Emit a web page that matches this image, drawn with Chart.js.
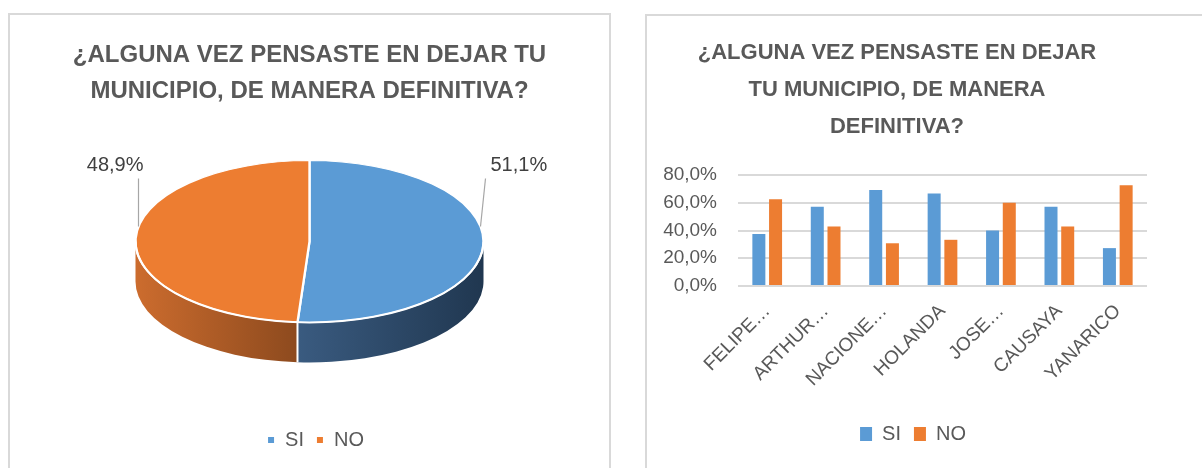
<!DOCTYPE html>
<html>
<head>
<meta charset="utf-8">
<script src="https://cdn.jsdelivr.net/npm/chart.js@4.4.1/dist/chart.umd.min.js"></script>
<style>
  html, body { margin: 0; padding: 0; background: #fff; }
  body { width: 1202px; height: 468px; position: relative; overflow: hidden; }
  .box { position: absolute; border: 2px solid #d9d9d9; box-sizing: border-box; }
  #boxPie { left: 8px; top: 13px; width: 603px; height: 480px; }
  #boxBar { left: 645px; top: 14px; width: 600px; height: 480px; }
  canvas { position: absolute; }
  #pie { left: 10px; top: 15px; }
  #bar { left: 647px; top: 16px; }
</style>
</head>
<body>
<div class="box" id="boxPie"></div>
<div class="box" id="boxBar"></div>
<canvas id="pie" width="599" height="453"></canvas>
<canvas id="bar" width="524" height="452"></canvas>
<script>
// data
const pieLabels = ['SI', 'NO'];
const pieValues = [51.1, 48.9];

const municipios = ['FELIPE…', 'ARTHUR…', 'NACIONE…', 'HOLANDA', 'JOSE…', 'CAUSAYA', 'YANARICO'];
const siValues = [37.5, 57.1, 69.2, 66.7, 40.0, 57.1, 27.3];
const noValues = [62.5, 42.9, 30.8, 33.3, 60.0, 42.9, 72.7];
const yTicks = [0, 20, 40, 60, 80];

const pieTitle = ['¿ALGUNA VEZ PENSASTE EN DEJAR TU', 'MUNICIPIO, DE MANERA DEFINITIVA?'];
const barTitle = ['¿ALGUNA VEZ PENSASTE EN DEJAR', 'TU MUNICIPIO, DE MANERA', 'DEFINITIVA?'];

const BLUE = '#5b9bd5';
const ORANGE = '#ed7d31';
const TEXT = '#595959';
const SANS = '"Liberation Sans", Arial, sans-serif';

Chart.defaults.color = TEXT;
Chart.defaults.font.family = SANS;

function pct(v) {
    return Number(v).toFixed(1).replace('.', ',') + '%';
}

// nudge the legend sideways (excel centres it a bit differently)
const legendShift = {
    id: 'legendShift',
    afterLayout(chart, args, opts) {
        if (!opts.dx) return;
        chart.legend.left += opts.dx;
        chart.legend.right += opts.dx;
    }
};

// flattened pie with a side wall
const PIE_RX = 174, PIE_RY = 81, PIE_DEPTH = 40, PIE_SHIFT = 27;
const sideColors = [['#3a5b80', '#203750'], ['#cc6c2e', '#8d4a1e']];

const pie3d = {
    id: 'pie3d',
    beforeDatasetsDraw(chart) {
        const ctx = chart.ctx;
        const arcs = chart.getDatasetMeta(0).data;
        const a0 = arcs[0];
        const cx = a0.x, cy = a0.y - PIE_SHIFT;
        chart.$pie = { cx, cy };

        arcs.forEach((arc, i) => {
            const s = Math.max(arc.startAngle, 0);
            const e = Math.min(arc.endAngle, Math.PI);
            if (e <= s) return;
            const x1 = cx + PIE_RX * Math.cos(e), x2 = cx + PIE_RX * Math.cos(s);
            const g = ctx.createLinearGradient(x1, 0, x2, 0);
            g.addColorStop(0, sideColors[i][0]);
            g.addColorStop(1, sideColors[i][1]);
            ctx.beginPath();
            ctx.ellipse(cx, cy, PIE_RX, PIE_RY, 0, s, e);
            ctx.ellipse(cx, cy + PIE_DEPTH, PIE_RX, PIE_RY, 0, e, s, true);
            ctx.closePath();
            ctx.fillStyle = g;
            ctx.fill();
        });

        ctx.save();
        ctx.translate(cx, cy);
        ctx.scale(PIE_RX / a0.outerRadius, PIE_RY / a0.outerRadius);
        ctx.translate(-a0.x, -a0.y);
    },
    afterDatasetsDraw(chart) {
        const ctx = chart.ctx;
        ctx.restore();
        const { cx, cy } = chart.$pie;
        const arcs = chart.getDatasetMeta(0).data;

        // white edge between top and wall, and wall divider
        ctx.strokeStyle = '#fff';
        ctx.lineWidth = 2;
        ctx.beginPath();
        ctx.ellipse(cx, cy, PIE_RX, PIE_RY, 0, 0, Math.PI);
        ctx.stroke();
        arcs.forEach(arc => {
            const a = arc.endAngle;
            if (a > 0 && a < Math.PI) {
                const px = cx + PIE_RX * Math.cos(a), py = cy + PIE_RY * Math.sin(a);
                ctx.beginPath();
                ctx.moveTo(px, py);
                ctx.lineTo(px, py + PIE_DEPTH);
                ctx.stroke();
            }
        });

        // data labels with leader lines
        const vals = chart.data.datasets[0].data;
        ctx.font = '20px ' + SANS;
        ctx.fillStyle = '#404040';
        ctx.textBaseline = 'middle';
        arcs.forEach((arc, i) => {
            const mid = (arc.startAngle + arc.endAngle) / 2;
            const right = Math.cos(mid) > 0;
            const dx = (right ? 1 : -1) * (PIE_RX - 3);
            const lx = cx + dx;
            const ly = cy - PIE_RY * Math.sqrt(1 - (dx / PIE_RX) ** 2);
            const top = cy - PIE_RY + 18;
            ctx.strokeStyle = '#a6a6a6';
            ctx.lineWidth = 1.2;
            ctx.beginPath();
            ctx.moveTo(lx, ly);
            ctx.lineTo(lx + (right ? 5 : 0), top);
            ctx.stroke();
            ctx.textAlign = right ? 'left' : 'right';
            ctx.fillText(pct(vals[i]), right ? lx + 10 : lx + 5, cy - PIE_RY + 5);
        });
    }
};

new Chart(document.getElementById('pie'), {
    type: 'pie',
    data: {
        labels: pieLabels,
        datasets: [{
            data: pieValues,
            backgroundColor: [BLUE, ORANGE],
            borderColor: '#fff',
            borderWidth: 2
        }]
    },
    options: {
        responsive: false,
        animation: false,
        layout: { padding: { bottom: 8 } },
        plugins: {
            title: {
                display: true,
                text: pieTitle,
                color: TEXT,
                font: { size: 24, weight: 'bold', lineHeight: 1.5 },
                padding: { top: 22, bottom: 10 }
            },
            legend: {
                position: 'bottom',
                labels: { boxWidth: 8, boxHeight: 8, padding: 12, color: TEXT, font: { size: 20 } }
            },
            legendShift: { dx: 6 },
            tooltip: { enabled: false }
        }
    },
    plugins: [pie3d, legendShift]
});

new Chart(document.getElementById('bar'), {
    type: 'bar',
    data: {
        labels: municipios,
        datasets: [
            { label: 'SI', data: siValues, backgroundColor: BLUE },
            { label: 'NO', data: noValues, backgroundColor: ORANGE }
        ]
    },
    options: {
        responsive: false,
        animation: false,
        datasets: { bar: { categoryPercentage: 0.572, barPercentage: 0.778 } },
        layout: { padding: { top: 0, right: 24, bottom: 14, left: 0 } },
        scales: {
            x: {
                grid: { display: false },
                border: { display: false },
                ticks: {
                    color: TEXT, font: { size: 19 },
                    minRotation: 45, maxRotation: 45, autoSkip: false, padding: 6
                },
                afterFit(s) { s.height = 125; }
            },
            y: {
                min: 0,
                max: 80,
                afterBuildTicks(s) { s.ticks = yTicks.map(v => ({ value: v })); },
                ticks: { color: TEXT, font: { size: 19 }, padding: 21, callback: v => pct(v) },
                grid: { color: '#d9d9d9', lineWidth: 2, drawTicks: false },
                border: { display: false },
                afterFit(s) { s.width = 91; }
            }
        },
        plugins: {
            title: {
                display: true,
                text: barTitle,
                color: TEXT,
                font: { size: 22, weight: 'bold', lineHeight: 1.682 },
                padding: { top: 18.5, bottom: 29.5 }
            },
            legend: {
                position: 'bottom',
                labels: { boxWidth: 12, boxHeight: 14, padding: 13, color: TEXT, font: { size: 20 } }
            },
            legendShift: { dx: 16 },
            tooltip: { enabled: false }
        }
    },
    plugins: [legendShift]
});
</script>
</body>
</html>
